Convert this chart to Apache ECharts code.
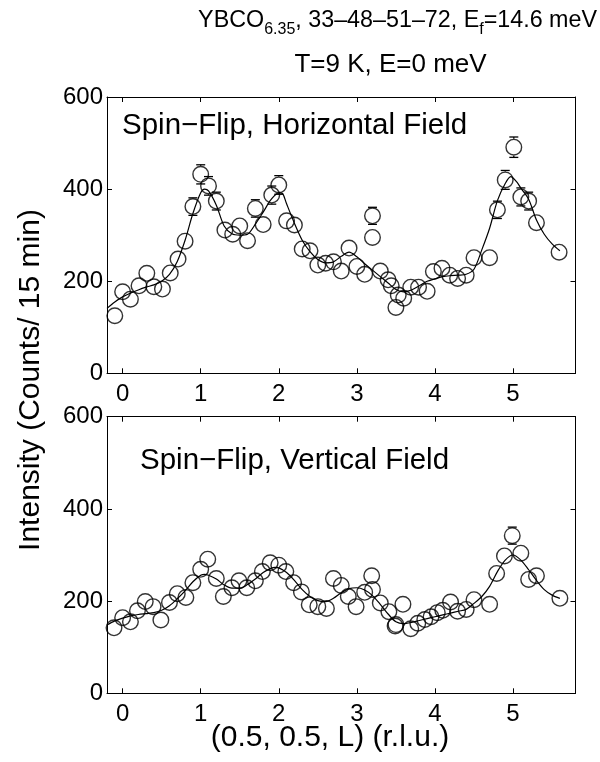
<!DOCTYPE html>
<html><head><meta charset="utf-8">
<script src="https://cdn.jsdelivr.net/npm/echarts@6/dist/echarts.min.js"></script>
<style>html,body{margin:0;padding:0;background:#fff}#c{width:600px;height:762px}</style>
</head><body><div id="c"></div>
<script>
// ---- data ----
const xTicks = [0, 1, 2, 3, 4, 5];
const yTicks = [0, 200, 400, 600];
// Spin-Flip, Horizontal Field (top)
const hfL = [-0.1,0.0,0.1,0.21,0.31,0.4,0.51,0.61,0.71,0.8,0.9,1.0,1.1,1.2,1.31,1.41,1.5,1.6,1.7,1.8,1.91,2.0,2.1,2.2,2.3,2.4,2.5,2.6,2.7,2.8,2.9,3.0,3.1,3.2,3.2,3.3,3.4,3.44,3.5,3.53,3.6,3.69,3.79,3.9,3.98,4.09,4.19,4.29,4.4,4.5,4.7,4.8,4.9,5.01,5.1,5.2,5.3,5.59];
const hfI = [125,177,161,190,217,188,183,218,248,287,362,432,407,374,311,302,320,288,358,323,387,409,331,322,270,266,235,239,242,222,272,232,215,342,295,222,203,190,143,170,163,187,187,178,221,228,213,206,213,251,251,355,420,491,383,374,327,263];
const hfFitL = [-0.2,-0.1,0,0.1,0.2,0.3,0.4,0.5,0.6,0.7,0.8,0.9,1.0,1.05,1.1,1.2,1.3,1.4,1.5,1.6,1.7,1.8,1.9,2.0,2.05,2.1,2.2,2.3,2.4,2.5,2.6,2.7,2.8,2.9,3.0,3.1,3.2,3.3,3.4,3.5,3.6,3.7,3.8,3.9,4.0,4.1,4.2,4.3,4.4,4.5,4.6,4.7,4.8,4.9,4.97,5.05,5.1,5.2,5.3,5.4,5.5,5.6];
const hfFitI = [141,155,166,174,181,187,192,200,215,243,289,347,392,400,396,365,320,303,300,302,324,350,377,392,390,368,326,289,264,247,240,242,254,263,253,238,224,210,196,182,177,181,190,200,205,210,212,213,215,226,268,315,375,412,427,415,402,378,333,302,281,266];
// Spin-Flip, Vertical Field (bottom)
const vfL = [-0.11,0.0,0.1,0.19,0.29,0.39,0.49,0.6,0.7,0.81,0.9,1.0,1.09,1.2,1.29,1.4,1.49,1.59,1.7,1.79,1.89,2.0,2.09,2.19,2.29,2.39,2.5,2.61,2.7,2.8,2.89,2.99,3.1,3.19,3.2,3.3,3.41,3.49,3.5,3.59,3.69,3.78,3.87,3.95,4.03,4.1,4.2,4.29,4.4,4.5,4.7,4.79,4.89,4.99,5.1,5.2,5.3,5.6];
const vfI = [142,164,155,179,199,188,159,197,216,208,240,269,291,249,210,229,244,229,244,264,283,278,264,240,220,192,188,184,249,234,210,188,219,255,225,196,177,146,149,193,140,152,160,166,175,180,198,178,182,203,193,260,298,342,304,247,255,206];
const vfFitL = [-0.2,-0.1,0,0.1,0.2,0.3,0.4,0.5,0.6,0.7,0.8,0.9,1.0,1.05,1.1,1.2,1.3,1.4,1.5,1.6,1.7,1.8,1.9,1.95,2.0,2.1,2.2,2.3,2.4,2.5,2.6,2.7,2.8,2.9,3.0,3.1,3.2,3.3,3.4,3.5,3.6,3.7,3.8,3.9,4.0,4.1,4.2,4.3,4.4,4.5,4.6,4.7,4.8,4.9,5.0,5.1,5.2,5.3,5.4,5.5,5.6];
const vfFitI = [148,157,163,168,171,173,175,180,190,205,222,242,256,258,256,248,235,228,228,236,248,262,271,273,272,262,245,225,210,201,199,206,218,227,229,224,212,193,172,155,151,154,158,162,166,170,174,178,182,195,210,232,264,289,300,289,268,245,225,213,206];

const topLabel = 'Spin\u2212Flip, Horizontal Field';
const botLabel = 'Spin\u2212Flip, Vertical Field';
const xLabel = '(0.5, 0.5, L) (r.l.u.)';
const yLabel = 'Intensity (Counts/ 15 min)';
const titleLine1 = [['YBCO', false], ['6.35', true], [', 33\u201348\u201351\u201372, E', false], ['f', true], ['=14.6 meV', false]];
const titleLine2 = 'T=9 K, E=0 meV';

// ---- layout ----
const FONT = 'Liberation Sans, Arial, sans-serif';
const G = [{left: 107, top: 97, width: 468.5, height: 276.3}, {left: 107, top: 416.7, width: 468.5, height: 276.6}];
const MS = 15.6;          // marker symbol size
const R = 8.5;            // outer marker radius for error-bar clipping
const tickFS = 24, labFS = 30, annFS = 29.5;
const t1FS = 23.3, t1Sub = 16, t1Right = 597, t1Y = 21;
const t2FS = 26, t2Cx = 390.5, t2Y = 65;

const chart = echarts.init(document.getElementById('c'), null, {renderer: 'canvas'});

function pairs(a, b) { return a.map((v, i) => [v, b[i]]); }
// Poisson counting error bars
function errPairs(a, b) { return a.map((v, i) => [v, b[i], Math.sqrt(b[i])]); }

function errRender(params, api) {
  const x = api.value(0), y = api.value(1), e = api.value(2);
  const c = api.coord([x, y]);
  const t = api.coord([x, y + e]);
  const b = api.coord([x, y - e]);
  const hw = 4.5;
  const st = {stroke: '#000', lineWidth: 1.3};
  const ch = [];
  if (c[1] - t[1] > R) {
    ch.push({type: 'line', shape: {x1: c[0], y1: c[1] - R, x2: t[0], y2: t[1]}, style: st});
    ch.push({type: 'line', shape: {x1: t[0] - hw, y1: t[1], x2: t[0] + hw, y2: t[1]}, style: st});
  }
  if (b[1] - c[1] > R) {
    ch.push({type: 'line', shape: {x1: c[0], y1: c[1] + R, x2: b[0], y2: b[1]}, style: st});
    ch.push({type: 'line', shape: {x1: b[0] - hw, y1: b[1], x2: b[0] + hw, y2: b[1]}, style: st});
  }
  return {type: 'group', children: ch};
}

const xAxes = [], yAxes = [];
[0, 1].forEach(g => {
  const common = {type: 'value', gridIndex: g, min: -0.2, max: 5.8, splitLine: {show: false},
    axisLine: {show: true, onZero: false, lineStyle: {color: '#000', width: 1}}};
  xAxes.push(Object.assign({}, common, {position: 'bottom',
    axisTick: {show: true, inside: true, length: 5, customValues: xTicks, lineStyle: {color: '#000'}},
    axisLabel: {show: true, customValues: xTicks, fontSize: tickFS, fontFamily: FONT, color: '#000', margin: 9}}));
  xAxes.push(Object.assign({}, common, {position: 'top',
    axisTick: {show: true, inside: true, length: 5, customValues: xTicks, lineStyle: {color: '#000'}},
    axisLabel: {show: false}}));
  const ycommon = {type: 'value', gridIndex: g, min: 0, max: 600, interval: 200, splitLine: {show: false},
    axisLine: {show: true, onZero: false, lineStyle: {color: '#000', width: 1}},
    axisTick: {show: true, inside: true, length: 5, customValues: yTicks, lineStyle: {color: '#000'}}};
  yAxes.push(Object.assign({}, ycommon, {position: 'left',
    axisLabel: {show: true, customValues: yTicks, fontSize: tickFS, fontFamily: FONT, color: '#000', margin: 4}}));
  yAxes.push(Object.assign({}, ycommon, {position: 'right', axisLabel: {show: false}}));
});

const series = [];
const sets = [[hfL, hfI, hfFitL, hfFitI], [vfL, vfI, vfFitL, vfFitI]];
sets.forEach((s, g) => {
  const xi = g * 2, yi = g * 2;
  series.push({type: 'line', xAxisIndex: xi, yAxisIndex: yi, data: pairs(s[2], s[3]), smooth: 0.3,
    showSymbol: false, lineStyle: {color: '#000', width: 1.2}, silent: true, z: 2});
  series.push({type: 'scatter', xAxisIndex: xi, yAxisIndex: yi, data: pairs(s[0], s[1]), symbol: 'circle',
    symbolSize: MS, itemStyle: {color: 'rgba(0,0,0,0)', borderColor: '#000', borderWidth: 1.4}, silent: true, z: 3});
  series.push({type: 'custom', xAxisIndex: xi, yAxisIndex: yi, data: errPairs(s[0], s[1]), renderItem: errRender,
    silent: true, z: 4});
});

// title line 1 with subscripts, laid out piece by piece
const ctx = document.createElement('canvas').getContext('2d');
function tw(t, fs) { ctx.font = fs + 'px ' + FONT; return ctx.measureText(t).width; }
let total = 0;
titleLine1.forEach(([t, sub]) => total += tw(t, sub ? t1Sub : t1FS));
let xx = t1Right - total;
const graphics = [];
titleLine1.forEach(([t, sub]) => {
  const fs = sub ? t1Sub : t1FS;
  graphics.push({type: 'text', x: xx, y: sub ? t1Y + 9 : t1Y, style: {text: t, fontSize: fs, fontFamily: FONT, fill: '#000', textAlign: 'left', textVerticalAlign: 'middle'}});
  xx += tw(t, fs);
});
graphics.push({type: 'text', x: t2Cx, y: t2Y, style: {text: titleLine2, fontSize: t2FS, fontFamily: FONT, fill: '#000', textAlign: 'center', textVerticalAlign: 'middle'}});
graphics.push({type: 'text', x: 122, y: 126, style: {text: topLabel, fontSize: annFS, fontFamily: FONT, fill: '#000', textAlign: 'left', textVerticalAlign: 'middle'}});
graphics.push({type: 'text', x: 140, y: 461, style: {text: botLabel, fontSize: annFS, fontFamily: FONT, fill: '#000', textAlign: 'left', textVerticalAlign: 'middle'}});
graphics.push({type: 'text', x: 330, y: 738, style: {text: xLabel, fontSize: labFS, fontFamily: FONT, fill: '#000', textAlign: 'center', textVerticalAlign: 'middle'}});
graphics.push({type: 'text', x: 31, y: 380, rotation: Math.PI / 2, style: {text: yLabel, fontSize: labFS, fontFamily: FONT, fill: '#000', textAlign: 'center', textVerticalAlign: 'middle'}});

chart.setOption({
  animation: false,
  backgroundColor: '#fff',
  grid: G.map(g => Object.assign({containLabel: false}, g)),
  xAxis: xAxes,
  yAxis: yAxes,
  series: series,
  graphic: graphics
});
</script></body></html>
